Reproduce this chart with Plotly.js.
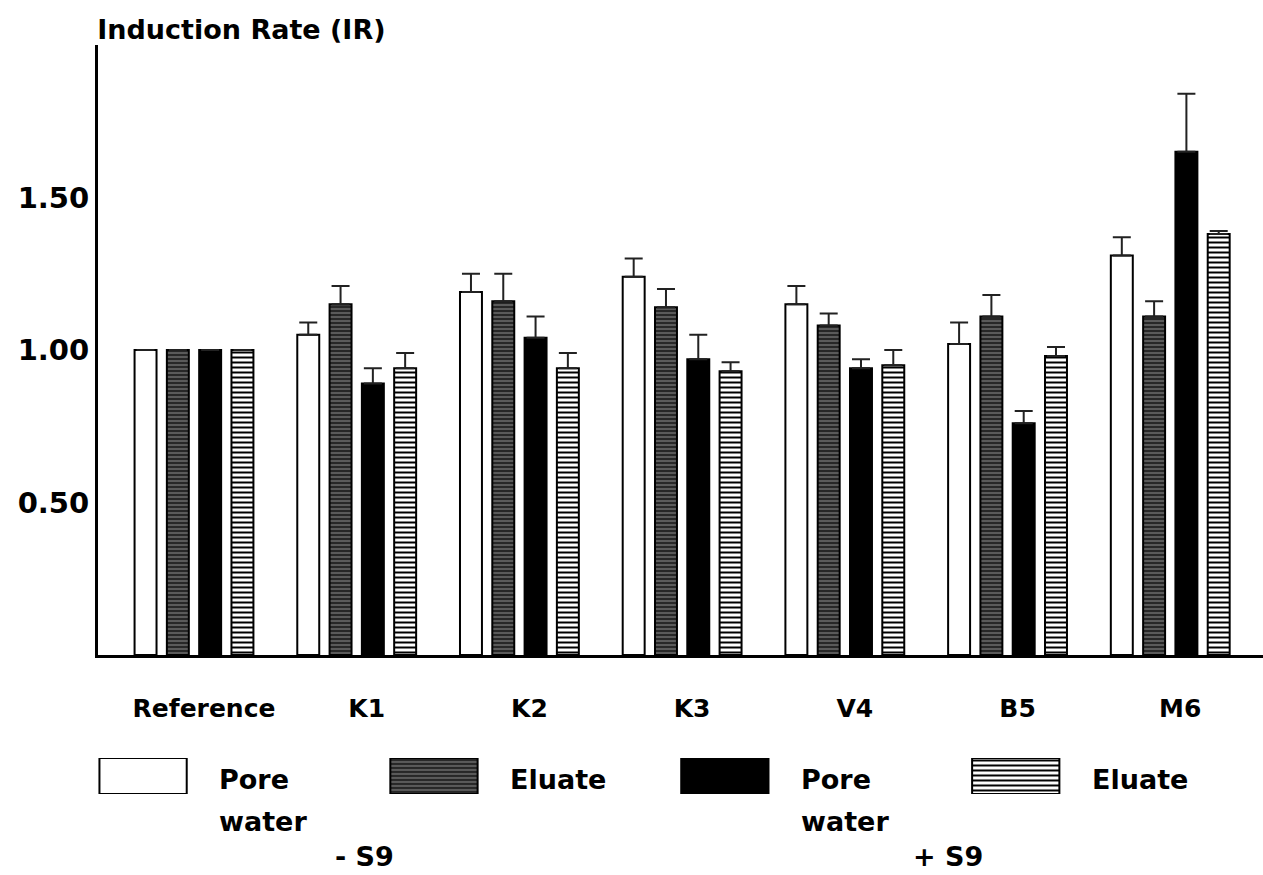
<!DOCTYPE html>
<html>
<head>
<meta charset="utf-8">
<script src="https://cdn.plot.ly/plotly-3.0.1.min.js"></script>
<style>html,body{margin:0;padding:0;background:#fff;}#chart{width:1263px;height:875px;}</style>
</head>
<body>
<div id="chart"></div>
<script>
// ---- data ----
const categories = ['Reference', 'K1', 'K2', 'K3', 'V4', 'B5', 'M6'];

const poreWaterMinusS9 = [1.00, 1.05, 1.19, 1.24, 1.15, 1.02, 1.31];
const poreWaterMinusS9Err = [0, 0.04, 0.06, 0.06, 0.06, 0.07, 0.06];

const eluateMinusS9 = [1.00, 1.15, 1.16, 1.14, 1.08, 1.11, 1.11];
const eluateMinusS9Err = [0, 0.06, 0.09, 0.06, 0.04, 0.07, 0.05];

const poreWaterPlusS9 = [1.00, 0.89, 1.04, 0.97, 0.94, 0.76, 1.65];
const poreWaterPlusS9Err = [0, 0.05, 0.07, 0.08, 0.03, 0.04, 0.19];

const eluatePlusS9 = [1.00, 0.94, 0.94, 0.93, 0.95, 0.98, 1.38];
const eluatePlusS9Err = [0, 0.05, 0.05, 0.03, 0.05, 0.03, 0.01];

const yTickVals = [0.5, 1.0, 1.5];
const yTickText = ['0.50', '1.00', '1.50'];

const legendKeys = ['Pore water -S9', 'Eluate -S9', 'Pore water +S9', 'Eluate +S9'];
const legendLine1 = ['Pore', 'Eluate', 'Pore', 'Eluate'];
const legendLine2 = ['water', '', 'water', ''];
const groupLabels = ['- S9', '+ S9'];

// ---- styles ----
const FONT = 'DejaVu Sans, Arial, sans-serif';
const styles = [
  {color: '#ffffff', pattern: {shape: ''}},
  {color: '#5a5a5a', pattern: {shape: '-', bgcolor: '#5a5a5a', fgcolor: '#111111', size: 4, solidity: 0.35, fillmode: 'replace'}},
  {color: '#000000', pattern: {shape: ''}},
  {color: '#ffffff', pattern: {shape: '-', bgcolor: '#ffffff', fgcolor: '#000000', size: 5, solidity: 0.4, fillmode: 'replace'}}
];
const series = [
  [poreWaterMinusS9, poreWaterMinusS9Err],
  [eluateMinusS9, eluateMinusS9Err],
  [poreWaterPlusS9, poreWaterPlusS9Err],
  [eluatePlusS9, eluatePlusS9Err]
];

const traces = series.map((s, i) => ({
  type: 'bar',
  x: categories,
  y: s[0],
  name: legendKeys[i],
  xaxis: 'x', yaxis: 'y',
  showlegend: false,
  marker: {
    color: styles[i].color,
    pattern: styles[i].pattern,
    line: {color: '#000', width: 2}
  },
  error_y: {
    type: 'data', symmetric: false,
    array: s[1], arrayminus: s[1].map(() => 0),
    color: '#222', thickness: 2, width: 9
  }
}));

// legend swatches drawn as a small bar subplot (one trace per key, shared slot)
legendKeys.forEach((k, i) => {
  traces.push({
    type: 'bar',
    x: [k],
    y: [1],
    xaxis: 'x2', yaxis: 'y2',
    offsetgroup: 'legend',
    width: 0.30,
    showlegend: false,
    hoverinfo: 'skip',
    marker: {
      color: styles[i].color,
      pattern: styles[i].pattern,
      line: {color: '#000', width: 2}
    }
  });
});

const LFONT = {family: FONT, size: 27, color: '#000', weight: 'bold'};
const annotations = [];
legendKeys.forEach((k, i) => {
  annotations.push({xref: 'x2', yref: 'y2', x: k, y: 0.5, xshift: 74, yshift: -4, xanchor: 'left', yanchor: 'middle',
    text: legendLine1[i], showarrow: false, font: LFONT});
  if (legendLine2[i]) annotations.push({xref: 'x2', yref: 'y2', x: k, y: 0.5, xshift: 74, yshift: -46, xanchor: 'left', yanchor: 'middle',
    text: legendLine2[i], showarrow: false, font: LFONT});
});
annotations.push({xref: 'paper', yref: 'paper', x: 0.229, y: 0.022, xanchor: 'center', yanchor: 'middle',
  text: groupLabels[0], showarrow: false, font: {family: FONT, size: 27, color: '#000', weight: 'bold'}});
annotations.push({xref: 'paper', yref: 'paper', x: 0.730, y: 0.022, xanchor: 'center', yanchor: 'middle',
  text: groupLabels[1], showarrow: false, font: {family: FONT, size: 27, color: '#000', weight: 'bold'}});

const layout = {
  width: 1263, height: 875,
  paper_bgcolor: '#fff', plot_bgcolor: '#fff',
  margin: {l: 98, r: 0, t: 45, b: 0},
  barmode: 'group', bargap: 0.206, bargroupgap: 0.32,
  font: {family: FONT, color: '#000'},
  title: {text: 'Induction Rate (IR)', xref: 'container', yref: 'container', x: 0.077, xanchor: 'left', y: 0.966, yanchor: 'middle',
    font: {family: FONT, size: 27, color: '#000', weight: 'bold'}},
  xaxis: {
    domain: [0, 1], anchor: 'y',
    range: [-0.59, 6.57], showgrid: false, zeroline: false,
    showline: true, linecolor: '#000', linewidth: 3, ticks: '',
    ticklabelstandoff: 29, ticklabelshift: 10,
    tickfont: {family: FONT, size: 25, color: '#000', weight: 'bold'}
  },
  yaxis: {
    domain: [0.2651, 1], anchor: 'x',
    range: [0, 2.0], showgrid: false, zeroline: false,
    showline: true, linecolor: '#000', linewidth: 3, ticks: '',
    tickvals: yTickVals, ticktext: yTickText,
    tickfont: {family: FONT, size: 29, color: '#000', weight: 'bold'}
  },
  xaxis2: {domain: [0, 1], anchor: 'y2', range: [-0.155, 3.85], visible: false, type: 'category'},
  yaxis2: {domain: [0.0976, 0.141], anchor: 'x2', range: [0, 1], visible: false},
  annotations: annotations
};

Plotly.newPlot('chart', traces, layout, {displayModeBar: false, staticPlot: true});
</script>
</body>
</html>
